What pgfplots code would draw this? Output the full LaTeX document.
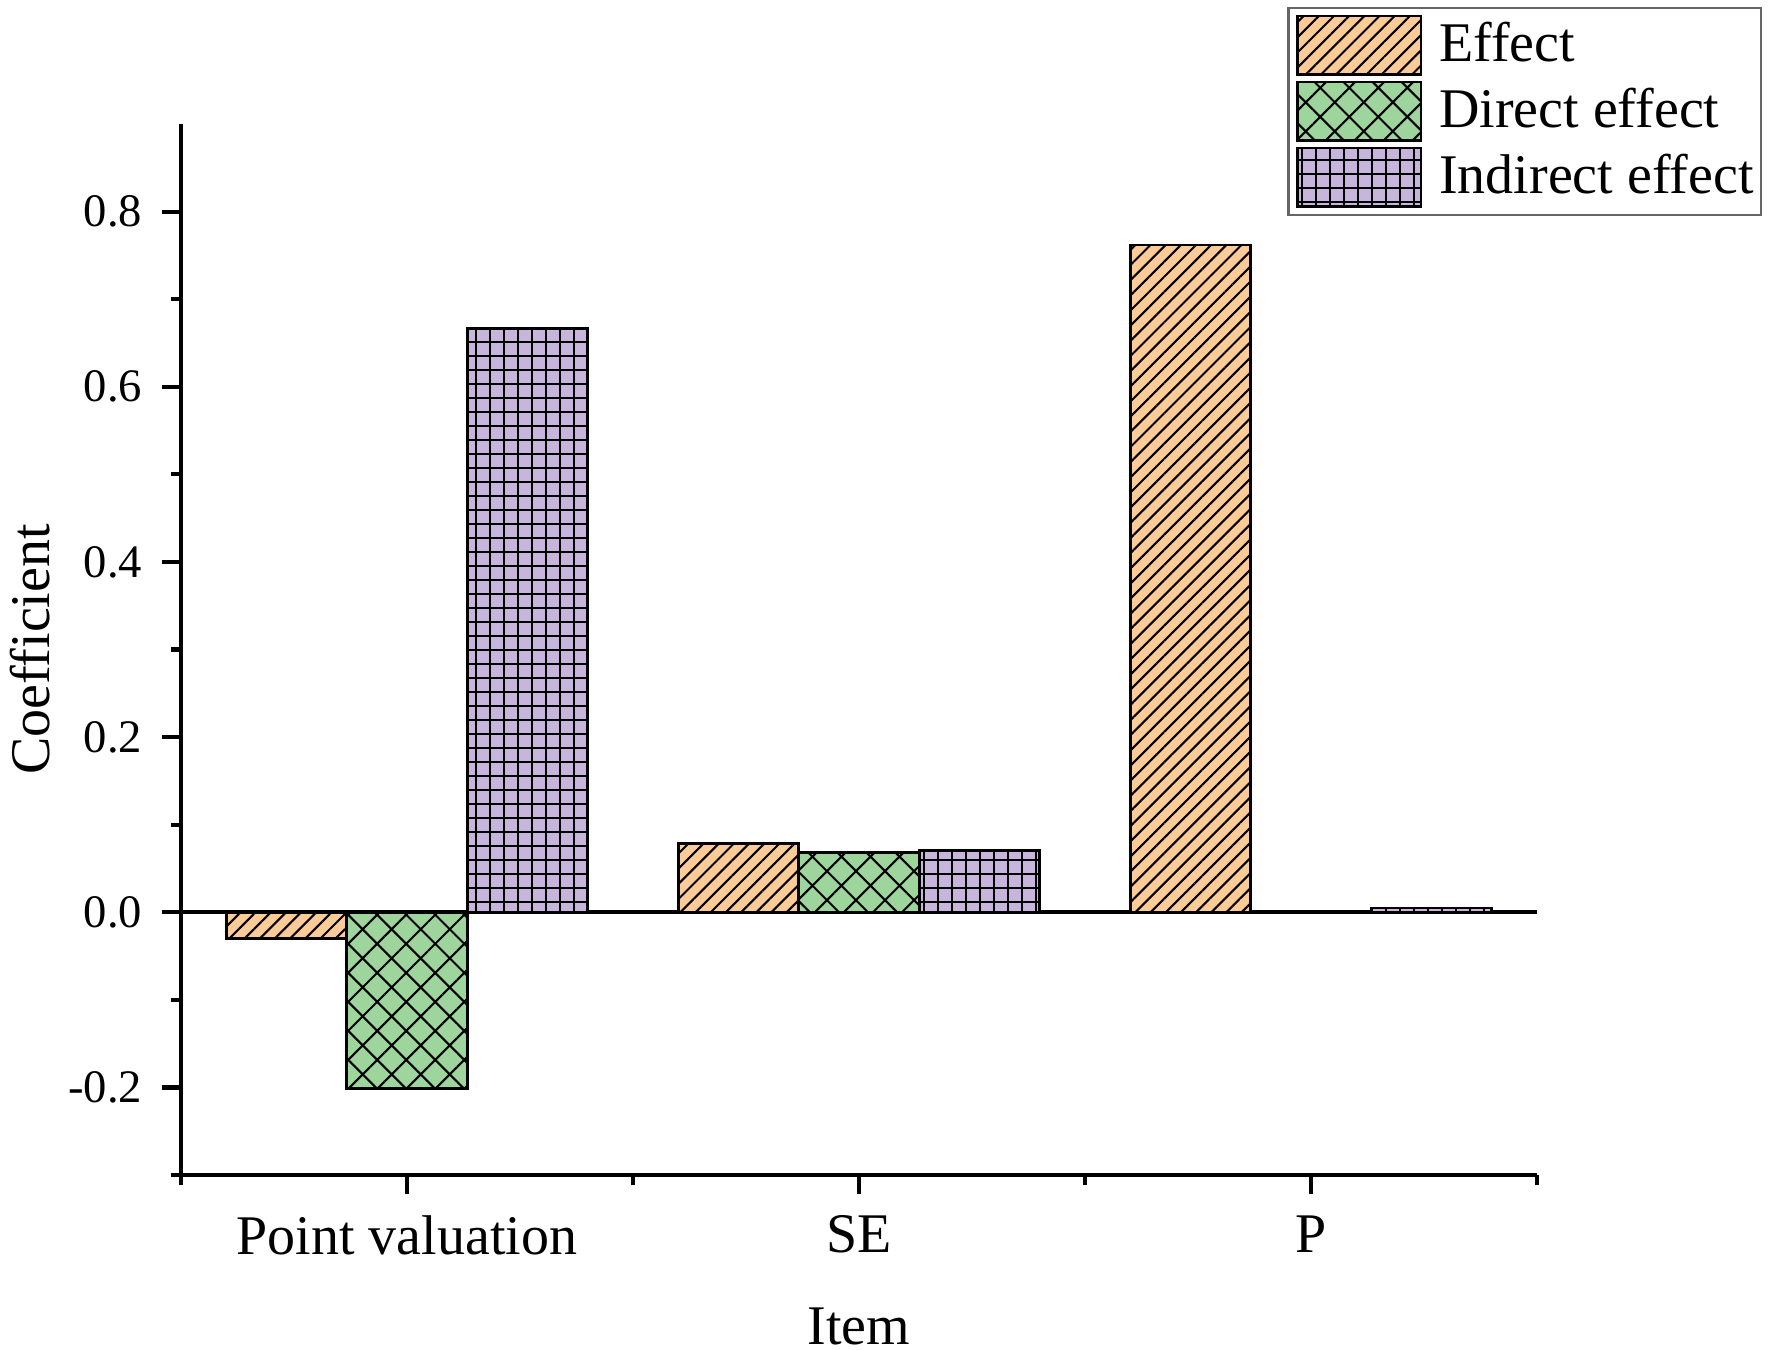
\documentclass[border=0pt]{standalone}
\usepackage{fontspec}
\setmainfont{Liberation Serif}
\usepackage{pgfplots}
\pgfplotsset{compat=1.18}
\usetikzlibrary{patterns.meta}
\definecolor{cEff}{HTML}{FCCB97}
\definecolor{cDir}{HTML}{9DD59D}
\definecolor{cInd}{HTML}{C7B5DC}
\begin{document}
\begin{tikzpicture}
\begin{axis}[
  scale only axis, width=290.8pt, height=225.4pt,
  ybar=0pt, bar width=25.85pt,
  xmin=0.5, xmax=3.5, ymin=-0.3, ymax=0.9,
  axis lines*=left,
  axis line style={line width=0.9pt},
  xtick={1,2,3}, xticklabels={Point valuation, SE, P},
  minor xtick={0.5,1.5,2.5,3.5},
  ytick={-0.2,0,0.2,0.4,0.6,0.8},
  minor ytick={-0.3,-0.1,0.1,0.3,0.5,0.7},
  tick align=outside,
  major tick length=4pt, minor tick length=2.2pt,
  tick style={black, line width=0.9pt},
  ticklabel style={font=\fontsize{10}{12}\selectfont},
  yticklabel style={xshift=-0.8pt, /pgf/number format/.cd, fixed, fixed zerofill, precision=1, assume math mode=true},
  xticklabel style={font=\fontsize{12}{14}\selectfont, yshift=-1.2pt},
  label style={font=\fontsize{12}{14}\selectfont},
  xlabel={Item}, ylabel={Coefficient},
  xlabel style={at={(axis description cs:0.5,-0.1437)}, anchor=center},
  ylabel style={at={(axis description cs:-0.1114,0.5)}, anchor=center},
  extra y ticks={0}, extra y tick labels={},
  extra y tick style={grid=major, major grid style={black, line width=0.9pt}, major tick length=0pt},
  legend style={at={(0.816,1.1118)}, anchor=north west, draw=black!60, line width=0.5pt,
    inner xsep=1.6pt, inner ysep=1.5pt, row sep=0.95pt, column sep=3.6pt,
    nodes={inner sep=0pt},
    font=\fontsize{12}{14}\selectfont},
  legend cell align=left,
  legend image code/.code={\draw[#1] (0pt,-6.3pt) rectangle (26.5pt,6.3pt);},
  every axis plot/.append style={draw=black, line width=0.6pt},
]
\addplot[fill=cEff, postaction={pattern={Lines[angle=45,distance=2.3pt,line width=0.45pt]}}]
  coordinates {(1,-0.030) (2,0.079) (3,0.762)};
\addplot[fill=cDir, postaction={pattern={Hatch[angle=45,distance=4.4pt,line width=0.45pt]}}]
  coordinates {(1,-0.201) (2,0.068) (3,0.001)};
\addplot[fill=cInd, postaction={pattern={Hatch[angle=0,distance=3.0023pt,line width=0.45pt]}}]
  coordinates {(1,0.667) (2,0.071) (3,0.005)};
\legend{Effect, Direct effect, Indirect effect}
\end{axis}
\pgfresetboundingbox
\path (-38.8pt,-37.5pt) rectangle (341.2pt,252pt);
\end{tikzpicture}
\end{document}
